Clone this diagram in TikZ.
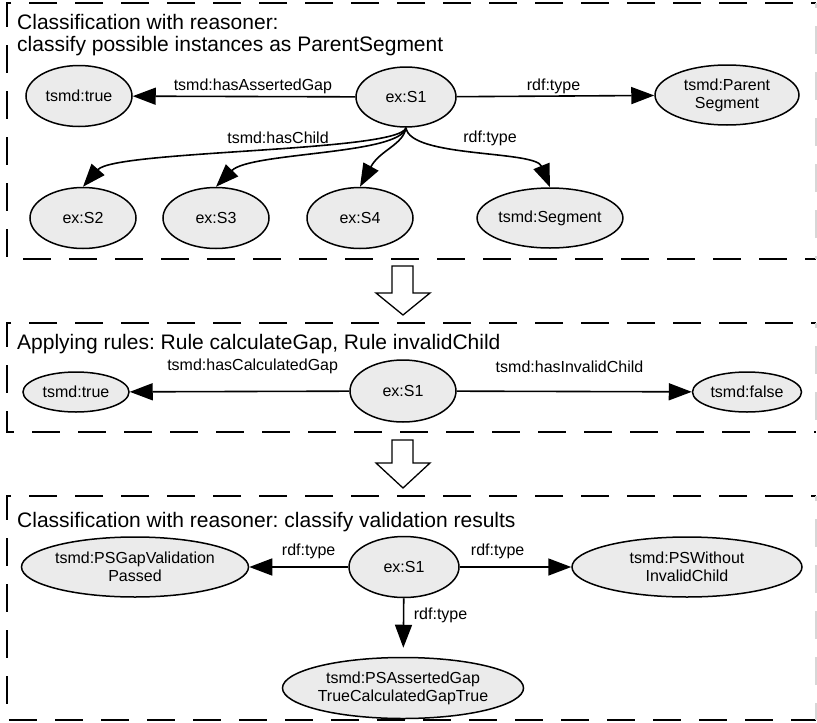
\documentclass[tikz,border=0pt]{standalone}
\usepackage{fontspec}
\setmainfont{Liberation Sans}
\usetikzlibrary{shapes.geometric,arrows.meta}
\definecolor{nodefill}{RGB}{235,235,235}
\definecolor{faint}{RGB}{215,215,215}
\frenchspacing
\tikzset{
  ent/.style={ellipse, draw, line width=1.5pt, fill=nodefill, inner sep=0pt,
              font=\fontsize{16}{18}\selectfont, align=center},
  sm/.style={ent, minimum width=106pt, minimum height=61pt},
  big/.style={ent, minimum width=144pt, minimum height=60pt},
  huge/.style={ent, minimum width=227pt, minimum height=60pt},
  lbl/.style={font=\fontsize{16}{18}\selectfont, inner sep=0pt},
  rel/.style={line width=1.6pt, -{Triangle[length=23pt,width=17pt]}},
  frame/.style={line width=2pt, dash pattern=on 28pt off 18pt, dash phase=23pt},
  faintframe/.style={frame, draw=faint},
  title/.style={font=\fontsize{21}{24}\selectfont\frenchspacing, anchor=base west, inner sep=0pt},
  block/.style={draw, line width=1.3pt, fill=white, line join=miter}
}
\begin{document}
\begin{tikzpicture}[x=1pt, y=-1pt]
\useasboundingbox (0,0) rectangle (817,723);

% ---------- frames ----------
\draw[frame] (816,3) -- (7,3) -- (7,259) -- (816,259);
\draw[faintframe] (816,3) -- (816,259);
\draw[frame] (816,323) -- (7,323) -- (7,432) -- (816,432);
\draw[faintframe] (816,323) -- (816,432);
\draw[frame] (816,496) -- (7,496) -- (7,720) -- (816,720);
\draw[faintframe] (816,496) -- (816,720);

% ---------- titles ----------
\node[title] (h1) at (17,29) {Classification with reasoner:};
\node[title] (h1b) at (17,51) {classify possible instances as ParentSegment};
\node[title] (h2) at (17,349) {Applying rules: Rule calculateGap, Rule invalidChild};
\node[title] (h3) at (17,527) {Classification with reasoner: classify validation results};

% ---------- section 1 ----------
\node[sm, minimum width=100pt, minimum height=60pt] (a1) at (406,97) {ex:S1};
\node[sm] (t1) at (79,96) {tsmd:true};
\node[big] (ps) at (727,95) {tsmd:Parent\\Segment};
\node[sm] (s2) at (83,218) {ex:S2};
\node[sm] (s3) at (216,218) {ex:S3};
\node[sm] (s4) at (360,218) {ex:S4};
\node[big] (seg) at (550,218) {tsmd:Segment};

\draw[rel] (a1) -- node[lbl, pos=0.46, yshift=10pt] (l1) {tsmd:hasAssertedGap} (t1);
\draw[rel] (a1) -- node[lbl, pos=0.49, yshift=10pt] (l2) {rdf:type} (ps);
\draw[rel] (a1.south) .. controls (400,152) and (115,150) .. (s2.north);
\draw[rel] (a1.south) .. controls (400,155) and (250,152) .. (s3.north);
\draw[rel] (a1.south) .. controls (403,145) and (380,150) .. (s4.north);
\draw[rel] (a1.south) .. controls (410,158) and (535,150) .. (seg.north);
\node[lbl] (lc) at (278,138) {tsmd:hasChild};
\node[lbl] (lt) at (490,138) {rdf:type};

% ---------- block arrow 1 ----------
\draw[block] (392,266) -- (413,266) -- (413,293) -- (430,293) -- (403,315) -- (376,293) -- (392,293) -- cycle;

% ---------- section 2 ----------
\node[sm, minimum width=106pt, minimum height=62pt] (a2) at (403,391) {ex:S1};
\node[ent, minimum width=106pt, minimum height=40pt] (t2) at (76,392) {tsmd:true};
\node[ent, minimum width=109pt, minimum height=40pt] (f2) at (747,392) {tsmd:false};
\draw[rel] (a2) -- node[lbl, pos=0.44, yshift=25pt] (l3) {tsmd:hasCalculatedGap} (t2);
\draw[rel] (a2) -- node[lbl, pos=0.48, yshift=25pt] (l4) {tsmd:hasInvalidChild} (f2);

% ---------- block arrow 2 ----------
\draw[block] (392,440) -- (413,440) -- (413,463) -- (430,463) -- (403,488) -- (376,463) -- (392,463) -- cycle;

% ---------- section 3 ----------
\node[sm, minimum width=110pt, minimum height=61pt] (a3) at (404,567) {ex:S1};
\node[huge] (g3) at (135,567) {tsmd:PSGapValidation\\Passed};
\node[huge, minimum width=230pt] (w3) at (687,567) {tsmd:PSWithout\\InvalidChild};
\node[huge, minimum width=226pt, minimum height=61pt] (p3) at (403,688) {tsmd:PSAssertedGap\\TrueCalculatedGapTrue};
\draw[rel] (a3) -- node[lbl, pos=0.4, yshift=16pt] (l5) {rdf:type} (g3);
\draw[rel] (a3) -- node[lbl, pos=0.34, yshift=16pt] (l6) {rdf:type} (w3);
\draw[rel, shorten >=9pt] (a3) -- node[lbl, pos=0.3, xshift=37pt] (l7) {rdf:type} (p3);
\end{tikzpicture}
\end{document}
